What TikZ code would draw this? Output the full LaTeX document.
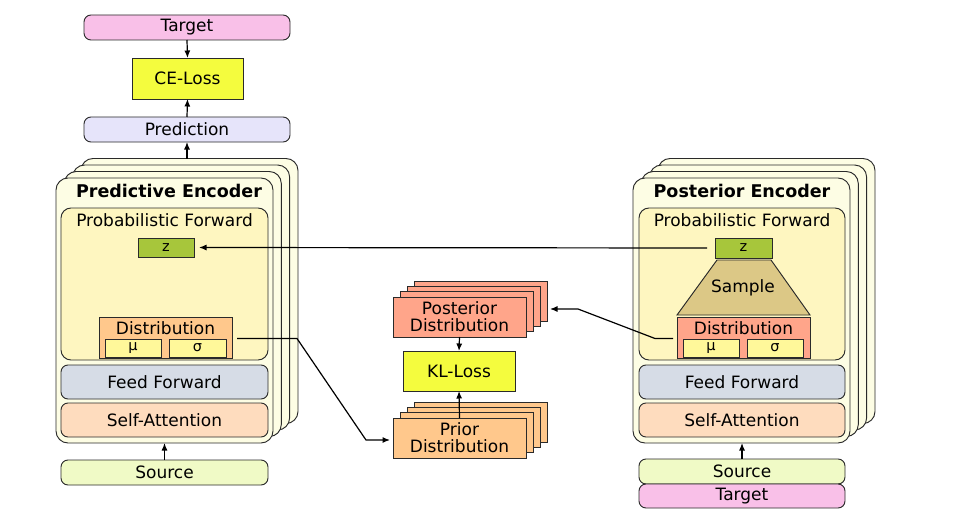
\documentclass[tikz,border=0pt]{standalone}
\usepackage{fontspec}
\setmainfont{DejaVu Sans}
\usetikzlibrary{arrows.meta,calc}
\definecolor{cTarget}{HTML}{F9C0E8}
\definecolor{cLoss}{HTML}{F4FC3E}
\definecolor{cPred}{HTML}{E6E4FA}
\definecolor{cEnc}{HTML}{FDFDE4}
\definecolor{cPF}{HTML}{FEF6C0}
\definecolor{cZ}{HTML}{A7C63B}
\definecolor{cDistL}{HTML}{FFC88C}
\definecolor{cDistR}{HTML}{FFA58A}
\definecolor{cMu}{HTML}{FFF89A}
\definecolor{cFF}{HTML}{D6DCE6}
\definecolor{cSA}{HTML}{FEDCBE}
\definecolor{cSrc}{HTML}{F0FAC6}
\definecolor{cSample}{HTML}{DCC886}
\definecolor{cLine}{HTML}{2A2A2A}
\newcommand\bx[7]{\node[#6, minimum width={(#4)-(#2)}, minimum height={(#5)-(#3)}] (#1) at ({((#2)+(#4))/2},{((#3)+(#5))/2}) {#7};}
\tikzset{
  base/.style={draw=cLine, line width=0.95pt, inner sep=0pt, outer sep=0pt, text=black, font=\fontsize{17}{19}\selectfont},
  rb/.style={base, rounded corners=7pt},
  sb/.style={base},
  enc/.style={base, rounded corners=12pt, fill=cEnc},
  small/.style={font=\fontsize{14.5}{16}\selectfont},
  lbl/.style={inner sep=0pt, font=\fontsize{17}{19}\selectfont},
  ttl/.style={inner sep=0pt, font=\bfseries\fontsize{17.5}{20}\selectfont},
  arr/.style={draw=black, line width=1.2pt, -{Latex[length=7.5pt,width=6pt]}},
}
\begin{document}
\begin{tikzpicture}[x=1pt,y=-1pt]
\useasboundingbox[fill=white] (0,0) rectangle (963,524);
% ---------- left column ----------
\bx{target}{84}{15}{290}{40}{rb, fill=cTarget}{Target}
\bx{ce}{132}{58}{243}{99}{sb, fill=cLoss}{CE-Loss}
\bx{pred}{84}{117}{290}{142}{rb, fill=cPred}{Prediction}
\bx{lenc3}{81}{158.5}{298}{423.5}{enc}{}
\bx{lenc2}{72.6}{165}{289.6}{430}{enc}{}
\bx{lenc1}{64.3}{171.5}{281.3}{436.5}{enc}{}
\bx{lenc}{56}{178}{273}{443}{enc}{}
\node[ttl] (ltitle) at (169,191) {Predictive Encoder};
\bx{lpf}{61}{208}{268}{360}{rb, rounded corners=10pt, fill=cPF}{}
\node[lbl] (lpft) at (164.5,220) {Probabilistic Forward};
\bx{lz}{138}{238}{194}{257}{sb, fill=cZ, small}{z}
\bx{ldist}{99}{317}{232}{358}{sb, fill=cDistL}{}
\node[lbl] (ldistt) at (165.5,328.5) {Distribution};
\bx{lmu}{105}{339}{161}{357}{sb, fill=cMu, small}{μ}
\bx{lsig}{169}{339}{226}{357}{sb, fill=cMu, small}{σ}
\bx{lff}{61}{365}{268}{399}{rb, fill=cFF}{Feed Forward}
\bx{lsa}{61}{403}{268}{437}{rb, fill=cSA}{Self-Attention}
\bx{lsrc}{61}{460}{268}{485}{rb, fill=cSrc}{Source}
% ---------- right column ----------
\bx{renc3}{658}{158.5}{875}{423.5}{enc}{}
\bx{renc2}{649.6}{165}{866.6}{430}{enc}{}
\bx{renc1}{641.3}{171.5}{858.3}{436.5}{enc}{}
\bx{renc}{633}{178}{850}{443}{enc}{}
\node[ttl] (rtitle) at (742,191) {Posterior Encoder};
\bx{rpf}{639}{208}{845}{360}{rb, rounded corners=10pt, fill=cPF}{}
\node[lbl] (rpft) at (742,220) {Probabilistic Forward};
\bx{rz}{715}{238}{772}{258}{sb, fill=cZ, small}{z}
\draw[draw=cLine, line width=0.95pt, fill=cSample] (717,260) -- (771,260) -- (810,315) -- (677,315) -- cycle;
\node[lbl] (sample) at (743,288) {Sample};
\bx{rdist}{677}{317}{810}{358}{sb, fill=cDistR}{}
\node[lbl] (rdistt) at (743.5,328.5) {Distribution};
\bx{rmu}{683}{339}{739}{357}{sb, fill=cMu, small}{μ}
\bx{rsig}{747}{339}{803}{357}{sb, fill=cMu, small}{σ}
\bx{rff}{639}{365}{845}{399}{rb, fill=cFF}{Feed Forward}
\bx{rsa}{639}{403}{845}{437}{rb, fill=cSA}{Self-Attention}
\bx{rsrc}{639}{459}{845}{484}{rb, fill=cSrc}{Source}
\bx{rtgt}{639}{484}{845}{508}{rb, fill=cTarget}{Target}
% ---------- middle ----------
\bx{post3}{414.9}{281.1}{547.9}{321.1}{sb, fill=cDistR}{}
\bx{post2}{407.6}{286.4}{540.6}{326.4}{sb, fill=cDistR}{}
\bx{post1}{400.3}{291.7}{533.3}{331.7}{sb, fill=cDistR}{}
\bx{post}{393}{297}{526}{337}{sb, fill=cDistR, align=center, font=\fontsize{17}{17}\selectfont}{Posterior\\Distribution}
\bx{kl}{403}{351}{515}{391}{sb, fill=cLoss}{KL-Loss}
\bx{prior3}{414.9}{402.1}{547.9}{442.1}{sb, fill=cDistL}{}
\bx{prior2}{407.6}{407.4}{540.6}{447.4}{sb, fill=cDistL}{}
\bx{prior1}{400.3}{412.7}{533.3}{452.7}{sb, fill=cDistL}{}
\bx{prior}{393}{418}{526}{458}{sb, fill=cDistL, align=center, font=\fontsize{17}{17}\selectfont}{Prior\\Distribution}
% ---------- connectors ----------
\draw[arr] (target.south) -- (ce.north);
\draw[arr] (pred.north) -- (ce.south);
\draw[arr] (pred.south |- lenc3.north) -- (pred.south);
\draw[arr] (lsrc.north) -- (lsrc.north |- lenc.south);
\draw[arr] (rsrc.north) -- (rsrc.north |- renc.south);
\draw[arr] (post.south) -- (kl.north);
\draw[arr] (prior.north) -- (kl.south);
\draw[arr, shorten <=8pt, shorten >=5pt] (rz.west) -- (lz.east);
\coordinate (lc1) at (297,338.5);
\coordinate (lc2) at (366,440);
\draw[arr, shorten <=5pt, shorten >=3pt] (ldist.east |- lc1) -- (lc1) -- (lc2) -- (lc2 -| prior.west);
\coordinate (rc1) at (655,338.5);
\coordinate (rc2) at (578,309);
\coordinate (pin) at (550,309);
\draw[arr, shorten <=4pt] (rdist.west |- rc1) -- (rc1) -- (rc2) -- (pin);
\end{tikzpicture}
\end{document}
